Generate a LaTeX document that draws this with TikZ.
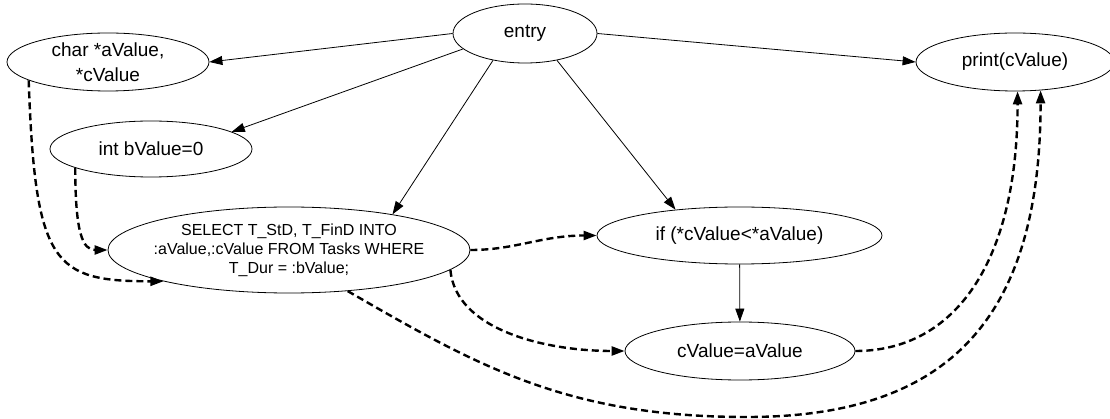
\documentclass[tikz,border=0pt]{standalone}
\usepackage{fontspec}
\setmainfont{Liberation Sans}
\usetikzlibrary{shapes.geometric, arrows.meta}

\begin{document}
\begin{tikzpicture}[x=1pt, y=1pt,
    stmt/.style={ellipse, draw, line width=0.8pt, inner sep=-4pt, align=center,
      minimum width=202pt, minimum height=58pt, font=\fontsize{19}{25}\selectfont},
    flow/.style={-{Triangle[length=13pt, width=9pt]}, line width=0.8pt},
    dep/.style={-{Triangle[length=13pt, width=9pt]}, line width=2.4pt, dash pattern=on 7pt off 4pt}]
    \useasboundingbox (0,0) rectangle (1110,-419);

    \node[stmt, minimum width=144pt, minimum height=59pt] (entry) at (525,-33.5) {entry};
    \node[stmt] (decl) at (108,-62) {char *aValue,\\*cValue};
    \node[stmt, minimum height=56pt] (init) at (151,-149) {int bValue=0};
    \node[stmt, inner sep=-12pt, minimum width=362pt, minimum height=86pt, font=\fontsize{16}{19}\selectfont] (query) at (289,-250)
        {SELECT T\_StD, T\_FinD INTO\\:aValue,:cValue FROM Tasks WHERE\\T\_Dur = :bValue;};
    \node[stmt, minimum width=285pt, minimum height=57pt] (cond) at (739.5,-235.5) {if (*cValue<*aValue)};
    \node[stmt, minimum width=230pt] (assign) at (740,-351) {cValue=aValue};
    \node[stmt, minimum width=198pt] (print) at (1015,-62) {print(cValue)};
    \coordinate (low) at (747,-417);

    \draw[flow] (entry.west) -- (decl.east);
    \draw[flow] (entry.194) -- (init.12);
    \draw[flow] (entry.220) -- (query.19);
    \draw[flow] (entry.320) -- (cond.158);
    \draw[flow] (entry.east) -- (print.west);
    \draw[flow] (cond) -- (assign);

    \draw[dep] (decl.193) .. controls +(-88:185) and +(180:110) .. (query.194);
    \draw[dep] (init.194) .. controls +(-90:65) and +(180:25) .. (query.west);
    \draw[dep] (query.east) .. controls +(0:45) and +(180:55) .. (cond.west);
    \draw[dep] (query.353) .. controls +(-85:60) and +(180:80) .. (assign.west);
    \draw[dep] (query.325) .. controls +(-30:150) and +(180:180) .. (low)
        .. controls +(0:200) and +(-90:230) .. (print.312);
    \draw[dep] (assign.east) .. controls +(0:100) and +(-90:170) .. (print.275);
\end{tikzpicture}
\end{document}
